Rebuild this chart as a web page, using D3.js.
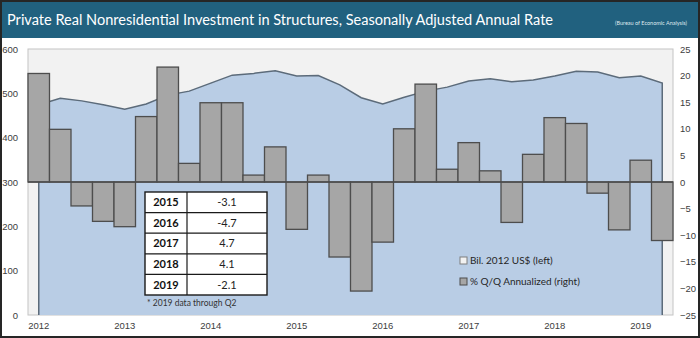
<!DOCTYPE html>
<html lang="en">
<head>
  <meta charset="UTF-8">
  <title>Private Real Nonresidential Investment in Structures</title>
  <style>
    body { margin: 0; padding: 0; background: #fff; }
    svg { display: block; font-family: Lato, "Open Sans", sans-serif; }
    .tick text { fill: #404040; font-size: 9.5px; }
  </style>
</head>
<body>
  <div id="chart"></div>

  <script src="https://d3js.org/d3.v7.min.js"></script>
  <script>
    // quarters 2012Q1 .. 2019Q2
    var quarters = [];
    [2012, 2013, 2014, 2015, 2016, 2017, 2018, 2019].forEach(function(y) {
      [1, 2, 3, 4].forEach(function(q) {
        if (y < 2019 || q <= 2) quarters.push(y + "Q" + q);
      });
    });

    // level, billions of 2012 US$ (left axis)
    var levels = [474, 489, 483, 474, 464, 476, 496, 505, 523, 541, 545, 551, 539, 540, 519, 490,
                  476, 491, 505, 514, 528, 533, 526, 530, 539, 550, 548, 535, 539, 523];

    // % Q/Q annualized (right axis)
    var changes = [20.4, 9.9, -4.5, -7.4, -8.4, 12.3, 21.6, 3.5, 14.9, 14.9, 1.3, 6.6, -8.9, 1.3, -14.1, -20.5,
                   -11.3, 10.0, 18.4, 2.4, 7.4, 2.1, -7.6, 5.2, 12.1, 11.0, -2.1, -9.0, 4.1, -11.0];

    var leftTicks = [0, 100, 200, 300, 400, 500, 600];
    var rightTicks = [-25, -20, -15, -10, -5, 0, 5, 10, 15, 20, 25];

    var tableYears = ["2015", "2016", "2017", "2018", "2019"];
    var tableValues = ["-3.1", "-4.7", "4.7", "4.1", "-2.1"];

    var legendLabels = ["Bil. 2012 US$ (left)", "% Q/Q Annualized (right)"];

    var width = 700, height = 338;
    var plot = { left: 28, right: 673, top: 49, bottom: 315 };

    var svg = d3.select("#chart").append("svg")
      .attr("width", width)
      .attr("height", height);

    // frame + title bar
    svg.append("rect")
      .attr("x", 1).attr("y", 1).attr("width", width - 2).attr("height", height - 2)
      .attr("fill", "#fff").attr("stroke", "#262626").attr("stroke-width", 2);

    svg.append("rect")
      .attr("x", 2).attr("y", 2).attr("width", width - 4).attr("height", 36)
      .attr("fill", "#21617f");

    svg.append("text")
      .attr("x", 7).attr("y", 25)
      .attr("fill", "#fff")
      .attr("font-size", 15.5)
      .attr("textLength", 546)
      .attr("lengthAdjust", "spacingAndGlyphs")
      .text("Private Real Nonresidential Investment in Structures, Seasonally Adjusted Annual Rate");

    svg.append("text")
      .attr("x", 687).attr("y", 25)
      .attr("text-anchor", "end")
      .attr("fill", "#dfe8ee")
      .attr("font-size", 5.5)
      .text("(Bureau of Economic Analysis)");

    var x = d3.scaleBand().domain(quarters).range([plot.left, plot.right]).padding(0);
    var yL = d3.scaleLinear().domain([0, 600]).range([plot.bottom, plot.top]);
    var yR = d3.scaleLinear().domain([-25, 25]).range([plot.bottom, plot.top]);
    var bw = x.bandwidth();

    // plot background
    svg.append("rect")
      .attr("x", plot.left).attr("y", plot.top)
      .attr("width", plot.right - plot.left).attr("height", plot.bottom - plot.top)
      .attr("fill", "#f2f2f2").attr("stroke", "#c4c4c4");

    var pts = quarters.map(function(q, i) { return { q: q, v: levels[i] }; });
    var cx = function(d) { return x(d.q) + bw / 2; };

    svg.append("path")
      .datum(pts)
      .attr("fill", "#b9cde5")
      .attr("d", d3.area().x(cx).y0(yL(0)).y1(function(d) { return yL(d.v); }));

    var outline = [{ q: quarters[0], v: 0 }].concat(pts, [{ q: quarters[quarters.length - 1], v: 0 }]);
    svg.append("path")
      .datum(outline)
      .attr("fill", "none")
      .attr("stroke", "#5c6b7a")
      .attr("stroke-width", 1.5)
      .attr("d", d3.line().x(cx).y(function(d) { return yL(d.v); }));

    // bars
    svg.selectAll(".bar")
      .data(quarters.map(function(q, i) { return { q: q, v: changes[i] }; }))
      .enter().append("rect")
      .attr("class", "bar")
      .attr("x", function(d) { return x(d.q); })
      .attr("width", bw)
      .attr("y", function(d) { return Math.min(yR(d.v), yR(0)); })
      .attr("height", function(d) { return Math.abs(yR(d.v) - yR(0)); })
      .attr("fill", "#a6a6a6")
      .attr("stroke", "#4d4d4d")
      .attr("stroke-width", 1.3);

    svg.append("line")
      .attr("x1", plot.left).attr("x2", plot.right)
      .attr("y1", yR(0)).attr("y2", yR(0))
      .attr("stroke", "#4d4d4d").attr("stroke-width", 1.3);

    // axes
    svg.append("g")
      .attr("transform", "translate(" + plot.left + ",0)")
      .call(d3.axisLeft(yL).tickValues(leftTicks).tickSize(0).tickPadding(10))
      .call(function(g) { g.select(".domain").remove(); });

    svg.append("g")
      .attr("transform", "translate(" + plot.right + ",0)")
      .call(d3.axisRight(yR).tickValues(rightTicks).tickSize(0).tickPadding(7))
      .call(function(g) { g.select(".domain").remove(); });

    svg.append("g")
      .attr("transform", "translate(0," + plot.bottom + ")")
      .call(d3.axisBottom(x)
        .tickValues(quarters.filter(function(q) { return /Q1$/.test(q); }))
        .tickFormat(function(q) { return q.slice(0, 4); })
        .tickSize(0).tickPadding(7))
      .call(function(g) { g.select(".domain").remove(); });

    // annual table
    var tx = 145, ty = 192, rowH = 20.6, c1 = 42, c2 = 80;
    var table = svg.append("g").attr("transform", "translate(" + tx + "," + ty + ")");
    table.append("rect")
      .attr("width", c1 + c2).attr("height", rowH * tableYears.length)
      .attr("fill", "#fff").attr("stroke", "#1a1a1a").attr("stroke-width", 1.4);
    var rows = table.selectAll(".row")
      .data(tableYears)
      .enter().append("g")
      .attr("transform", function(d, i) { return "translate(0," + i * rowH + ")"; });
    rows.filter(function(d, i) { return i > 0; }).append("line")
      .attr("x1", 0).attr("x2", c1 + c2)
      .attr("stroke", "#1a1a1a").attr("stroke-width", 1.2);
    rows.append("text")
      .attr("x", c1 / 2).attr("y", rowH / 2).attr("dy", "0.35em")
      .attr("text-anchor", "middle")
      .attr("font-size", 11).attr("font-weight", "bold").attr("fill", "#111")
      .text(function(d) { return d; });
    rows.append("text")
      .attr("x", c1 + c2 / 2).attr("y", rowH / 2).attr("dy", "0.35em")
      .attr("text-anchor", "middle")
      .attr("font-size", 11).attr("fill", "#222")
      .text(function(d, i) { return tableValues[i]; });
    table.append("line")
      .attr("x1", c1).attr("x2", c1).attr("y1", 0).attr("y2", rowH * tableYears.length)
      .attr("stroke", "#1a1a1a").attr("stroke-width", 1.2);

    svg.append("text")
      .attr("x", 147).attr("y", 306)
      .attr("font-size", 8.5).attr("fill", "#333")
      .text("* 2019 data through Q2");

    // legend
    var legend = svg.selectAll(".legend")
      .data(legendLabels)
      .enter().append("g")
      .attr("transform", function(d, i) { return "translate(460," + (257 + i * 21) + ")"; });
    legend.append("rect")
      .attr("width", 7).attr("height", 7)
      .attr("fill", function(d, i) { return i === 0 ? "#f2f2f2" : "#a6a6a6"; })
      .attr("stroke", function(d, i) { return i === 0 ? "#7f7f7f" : "#4d4d4d"; })
      .attr("stroke-width", 1);
    legend.append("text")
      .attr("x", 10).attr("y", 3.5).attr("dy", "0.35em")
      .attr("font-size", 10).attr("fill", "#262626")
      .text(function(d) { return d; });
  </script>
</body>
</html>
